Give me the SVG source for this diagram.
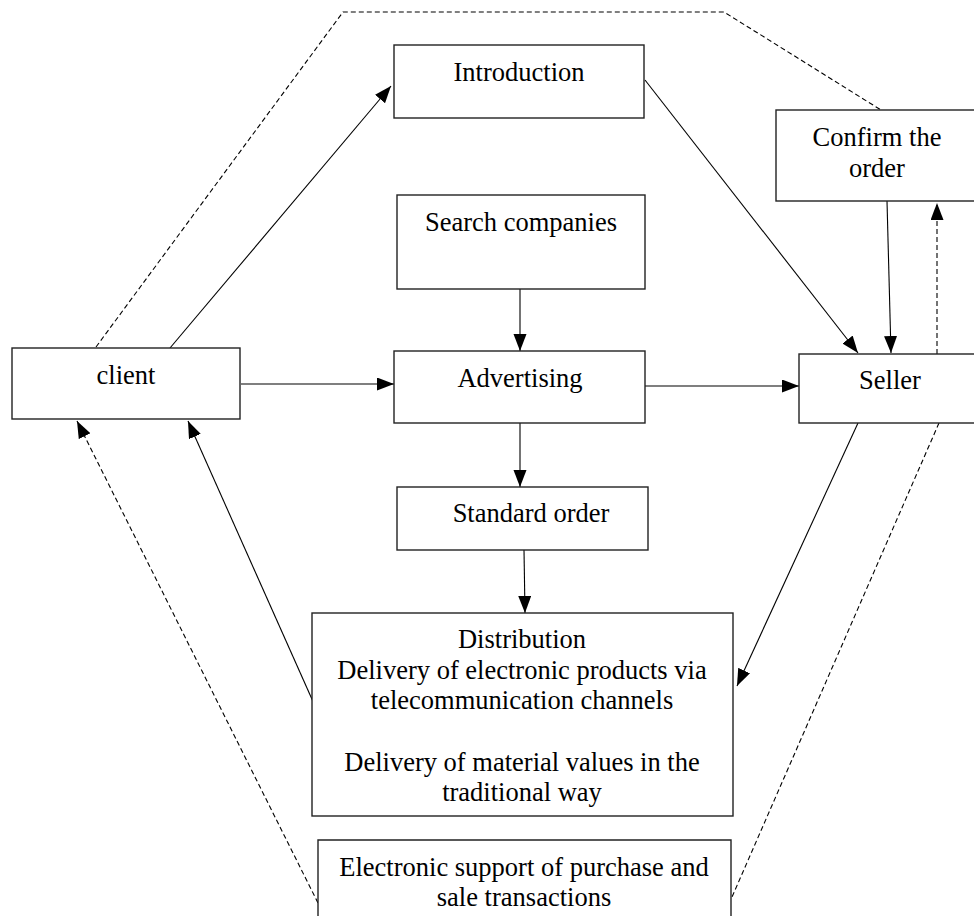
<svg xmlns="http://www.w3.org/2000/svg" width="974" height="916" viewBox="0 0 974 916">
<style>
.box{fill:#fff;stroke:#222;stroke-width:1.4}
.t{font-family:"Liberation Serif","Times New Roman",serif;font-size:26.5px;fill:#000;text-anchor:middle}
.c{fill:none;stroke:#000;stroke-width:1.1}
.d{fill:none;stroke:#000;stroke-width:1.1;stroke-dasharray:5 3}
</style>
<defs>
<marker id="ah" markerUnits="userSpaceOnUse" markerWidth="18" markerHeight="14" refX="17" refY="6.5" orient="auto">
<path d="M0,0 L17,6.5 L0,13 z" fill="#000"/>
</marker>
</defs>
<rect width="974" height="916" fill="#fff"/>
<g id="connectors">
<polyline class="d" points="96,347 343,12 724,12 881,110"/>
<line class="c" x1="170" y1="348" x2="391" y2="86" marker-end="url(#ah)"/>
<line class="c" x1="645" y1="80" x2="858" y2="353" marker-end="url(#ah)"/>
<line class="c" x1="520" y1="289" x2="520" y2="351" marker-end="url(#ah)"/>
<line class="c" x1="241" y1="384" x2="394" y2="384" marker-end="url(#ah)"/>
<line class="c" x1="645" y1="386" x2="799" y2="386" marker-end="url(#ah)"/>
<line class="c" x1="887" y1="201" x2="891" y2="353" marker-end="url(#ah)"/>
<line class="d" x1="937" y1="354" x2="937" y2="203" marker-end="url(#ah)"/>
<line class="c" x1="520" y1="423" x2="520" y2="487" marker-end="url(#ah)"/>
<line class="c" x1="524" y1="550" x2="525" y2="613" marker-end="url(#ah)"/>
<line class="c" x1="315" y1="706" x2="188" y2="421" marker-end="url(#ah)"/>
<line class="c" x1="858" y1="423" x2="737" y2="686" marker-end="url(#ah)"/>
<line class="d" x1="318" y1="903" x2="77" y2="421" marker-end="url(#ah)"/>
<line class="d" x1="939" y1="423" x2="732" y2="897"/>
</g>
<g id="introduction">
<rect class="box" x="394" y="45" width="250" height="73"/>
<text class="t" x="519" y="81">Introduction</text>
</g>
<g id="confirm">
<rect class="box" x="776" y="110" width="210" height="91"/>
<text class="t" x="877" y="146">Confirm the</text>
<text class="t" x="877" y="177">order</text>
</g>
<g id="search">
<rect class="box" x="397" y="195" width="248" height="94"/>
<text class="t" x="521" y="231">Search companies</text>
</g>
<g id="client">
<rect class="box" x="12" y="348" width="228" height="71"/>
<text class="t" x="126" y="384">client</text>
</g>
<g id="advertising">
<rect class="box" x="394" y="351" width="251" height="72"/>
<text class="t" x="520" y="387">Advertising</text>
</g>
<g id="seller">
<rect class="box" x="799" y="354" width="190" height="69"/>
<text class="t" x="890" y="389">Seller</text>
</g>
<g id="standard">
<rect class="box" x="397" y="487" width="251" height="63"/>
<text class="t" x="531" y="522">Standard order</text>
</g>
<g id="distribution">
<rect class="box" x="312" y="613" width="421" height="203"/>
<text class="t" x="522" y="648">Distribution</text>
<text class="t" x="522" y="679">Delivery of electronic products via</text>
<text class="t" x="522" y="709">telecommunication channels</text>
<text class="t" x="522" y="771">Delivery of material values in the</text>
<text class="t" x="522" y="801">traditional way</text>
</g>
<g id="support">
<polyline class="box" points="318,930 318,840 731,840 731,930"/>
<text class="t" x="524" y="876">Electronic support of purchase and</text>
<text class="t" x="524" y="906">sale transactions</text>
</g>
</svg>
